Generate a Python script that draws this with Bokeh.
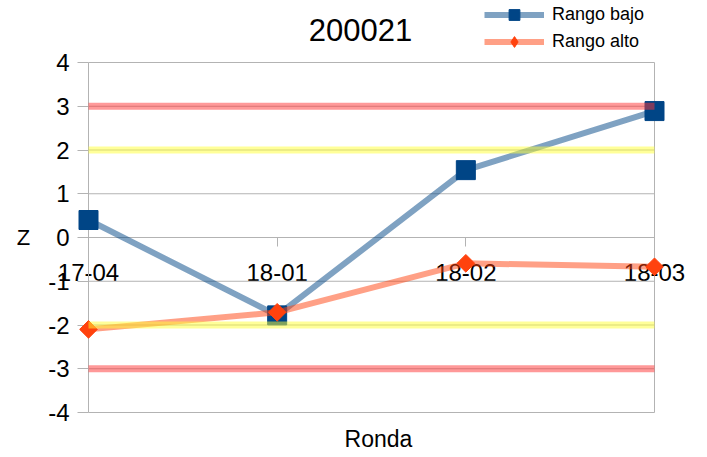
import math
from bokeh.plotting import figure
from bokeh.models import Range1d, FixedTicker, Legend, LegendItem, LinearAxis, Label
from bokeh.embed import file_html
from bokeh.resources import INLINE

# ---- data ----
cats = ["17-04", "18-01", "18-02", "18-03"]
rango_bajo = [0.40, -1.78, 1.54, 2.89]
rango_alto = [-2.10, -1.71, -0.59, -0.67]
limites_rojos = [3, -3]
limites_amarillos = [2, -2]
y_ticks = [-4, -3, -2, -1, 0, 1, 2, 3, 4]
y_tick_labels = ["-4", "-3", "-2", "-1", "0", "1", "2", "3", "4"]
titulo = "200021"
x_label = "Ronda"
y_label = "Z"
serie_nombres = ["Rango bajo", "Rango alto"]

xs = list(range(len(cats)))
FONT = "Liberation Sans"
GRID = "#b3b3b3"
AZUL = "#004586"
NARANJA = "#ff420e"

# ---- layout (pixels inside the figure) ----
W, H = 699, 453
FL, FR, FT, FB = 88, 654, 62, 412   # plot-area edges
ppx = (FR - FL) / (xs[-1] - xs[0])
ppy = (FB - FT) / (y_ticks[-1] - y_ticks[0])
x_range = Range1d(xs[0] - FL / ppx, xs[-1] + (W - FR) / ppx)
y_range = Range1d(y_ticks[0] - (H - FB) / ppy, y_ticks[-1] + FT / ppy)


def dx(px):
    return xs[0] + (px - FL) / ppx


def dy(py):
    return y_ticks[-1] + (FT - py) / ppy


p = figure(width=W, height=H, min_border=0, title=None,
           x_axis_location=None, y_axis_location=None,
           x_range=x_range, y_range=y_range,
           output_backend="svg", toolbar_location=None,
           background_fill_color="white", border_fill_color="white")
p.outline_line_color = None
p.grid.visible = False

# horizontal grid lines and right border
p.segment(x0=xs[0], x1=xs[-1], y0=y_ticks, y1=y_ticks, line_color=GRID, line_width=1)
p.segment(x0=xs[-1], x1=xs[-1], y0=y_ticks[0], y1=y_ticks[-1], line_color=GRID, line_width=1)

# y axis (at first category)
yaxis = LinearAxis(fixed_location=xs[0], bounds=(y_ticks[0], y_ticks[-1]),
                   ticker=FixedTicker(ticks=y_ticks),
                   major_label_overrides={t: s for t, s in zip(y_ticks, y_tick_labels)},
                   axis_line_color=GRID, major_tick_line_color=GRID,
                   major_tick_out=11, major_tick_in=0, minor_tick_line_color=None,
                   major_label_text_font=FONT, major_label_text_font_size="24px",
                   major_label_text_color="black", major_label_standoff=8,
                   axis_label=y_label, axis_label_text_font=FONT,
                   axis_label_text_font_size="22px", axis_label_text_font_style="normal",
                   axis_label_text_color="black", axis_label_orientation="horizontal",
                   axis_label_standoff=15, level="underlay")
p.add_layout(yaxis, "left")

# x axis crossing at y = 0
xaxis = LinearAxis(fixed_location=0, bounds=(xs[0], xs[-1]),
                   ticker=FixedTicker(ticks=xs),
                   major_label_overrides={i: c for i, c in zip(xs, cats)},
                   axis_line_color=None, major_tick_line_color=GRID,
                   major_tick_out=9, major_tick_in=0, minor_tick_line_color=None,
                   major_label_text_font=FONT, major_label_text_font_size="24px",
                   major_label_text_color="black", major_label_standoff=17,
                   level="underlay")
p.add_layout(xaxis, "below")

# series
l1 = p.line(xs, rango_bajo, line_color=AZUL, line_alpha=0.5, line_width=6)
m1 = p.scatter(xs, rango_bajo, marker="square", size=19, fill_color=AZUL,
               line_color=AZUL)
l2 = p.line(xs, rango_alto, line_color=NARANJA, line_alpha=0.5, line_width=6)
# diamond symbol used for the legend (hidden under the rotated squares below)
m2_leg = p.scatter(xs, rango_alto, marker="diamond", size=12, fill_color=NARANJA,
                   line_color=NARANJA)
m2 = p.scatter(xs, rango_alto, marker="square", angle=math.pi / 4, size=12.5,
               fill_color=NARANJA, line_color=NARANJA)

# limit lines drawn on top of the series
p.segment(x0=xs[0], x1=xs[-1], y0=limites_rojos, y1=limites_rojos,
          line_color="#ff3333", line_alpha=0.5, line_width=7)
p.segment(x0=xs[0], x1=xs[-1], y0=limites_amarillos, y1=limites_amarillos,
          line_color="#ffff33", line_alpha=0.5, line_width=7)

# title and x axis name
p.add_layout(Label(x=dx(360), y=dy(29.5), text=titulo, text_align="center",
                   text_baseline="middle", text_font=FONT, text_font_size="31px",
                   text_color="black"))
p.add_layout(Label(x=dx(378), y=dy(438.5), text=x_label, text_align="center",
                   text_baseline="middle", text_font=FONT, text_font_size="23px",
                   text_color="black"))

legend = Legend(items=[LegendItem(label=serie_nombres[0], renderers=[l1, m1]),
                       LegendItem(label=serie_nombres[1], renderers=[l2, m2_leg])],
                location=(484, H - 0.5 - 54), orientation="vertical",
                glyph_width=60, glyph_height=27, label_height=27,
                label_standoff=8, spacing=0, padding=0, margin=0,
                label_text_font=FONT, label_text_font_size="18px",
                label_text_color="black",
                border_line_color=None, background_fill_alpha=0)
p.add_layout(legend, "center")

open("out.html", "w").write(file_html(p, INLINE))
